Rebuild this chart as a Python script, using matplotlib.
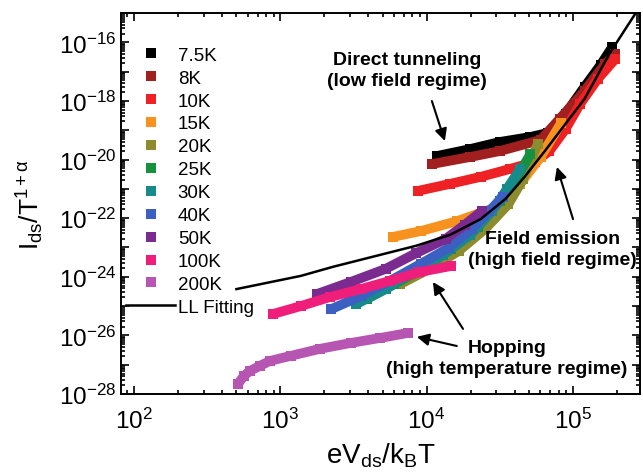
import numpy as np
import matplotlib
matplotlib.use("Agg")
import matplotlib.pyplot as plt
from matplotlib.lines import Line2D

plt.rcParams['font.family'] = ['Liberation Sans', 'DejaVu Sans']
plt.rcParams['mathtext.fontset'] = 'custom'
plt.rcParams['mathtext.rm'] = 'Liberation Sans'
plt.rcParams['mathtext.it'] = 'Liberation Sans:italic'

# data, as log10 values (x = eV/kT, y = I/T^(1+a))
labels = ['7.5K', '8K', '10K', '15K', '20K', '25K', '30K', '40K', '50K', '100K', '200K']
colors = ['#000000', '#a11f1f', '#ee2124', '#f7921e', '#8c8c2f', '#17903f',
          '#178b8b', '#3c60c2', '#7b2a8f', '#ee1e7a', '#b656b2']

x_7p5 = [4.07, 4.30, 4.50, 4.71, 4.83, 4.95, 5.08, 5.19, 5.27]
y_7p5 = [-19.88, -19.64, -19.40, -19.23, -19.09, -18.44, -17.52, -16.77, -16.16]
x_8 = [4.04, 4.30, 4.50, 4.78, 4.91, 5.08, 5.22, 5.29]
y_8 = [-20.15, -19.91, -19.71, -19.33, -18.61, -17.66, -16.74, -16.40]
x_10 = [3.94, 4.16, 4.37, 4.57, 4.74, 4.84, 4.95, 5.05, 5.17, 5.29]
y_10 = [-21.07, -20.83, -20.59, -20.32, -20.08, -19.71, -18.96, -18.10, -17.25, -16.57]
x_15 = [3.77, 3.96, 4.21, 4.48, 4.64, 4.78, 4.92]
y_15 = [-22.64, -22.44, -22.10, -21.62, -20.83, -19.91, -18.75]
x_20 = [3.82, 4.02, 4.22, 4.40, 4.56, 4.66, 4.76]
y_20 = [-24.25, -23.73, -23.12, -22.37, -21.52, -20.66, -19.47]
x_25 = [3.59, 3.78, 3.99, 4.17, 4.35, 4.50, 4.62, 4.71]
y_25 = [-24.76, -24.25, -23.67, -23.05, -22.30, -21.41, -20.59, -19.81]
x_30 = [3.52, 3.72, 3.92, 4.11, 4.30, 4.45, 4.55, 4.64]
y_30 = [-24.93, -24.42, -23.80, -23.26, -22.57, -21.75, -21.00, -20.32]
x_40 = [3.35, 3.55, 3.75, 3.96, 4.15, 4.31, 4.43, 4.52]
y_40 = [-25.10, -24.66, -24.14, -23.56, -23.02, -22.37, -21.75, -21.28]
x_50 = [3.25, 3.48, 3.72, 3.93, 4.13, 4.26, 4.38]
y_50 = [-24.59, -24.18, -23.73, -23.19, -22.71, -22.23, -21.75]
x_100 = [2.95, 3.14, 3.34, 3.55, 3.75, 3.95, 4.17]
y_100 = [-25.27, -25.00, -24.69, -24.42, -24.14, -23.84, -23.63]
x_200 = [2.71, 2.75, 2.79, 2.86, 2.93, 3.07, 3.27, 3.48, 3.68, 3.87]
y_200 = [-27.66, -27.39, -27.22, -27.04, -26.87, -26.70, -26.46, -26.26, -26.09, -25.92]

x_fit = [2.70, 3.14, 3.36, 3.93, 4.16, 4.37, 4.54, 4.67, 4.81, 4.95, 5.08, 5.25, 5.43]
y_fit = [-24.42, -23.97, -23.66, -22.94, -22.57, -22.03, -21.34, -20.59, -19.70,
         -18.78, -17.93, -16.39, -15.00]

xs = [x_7p5, x_8, x_10, x_15, x_20, x_25, x_30, x_40, x_50, x_100, x_200]
ys = [y_7p5, y_8, y_10, y_15, y_20, y_25, y_30, y_40, y_50, y_100, y_200]

fig = plt.figure(figsize=(6.43, 4.77), dpi=100)
ax = fig.add_axes([0.1882, 0.1719, 0.8071, 0.7987])

handles = []
for lab, c, lx, ly in zip(labels, colors, xs, ys):
    ax.plot(10.0 ** np.array(lx), 10.0 ** np.array(ly), '-', color=c, lw=7,
            solid_capstyle='butt', solid_joinstyle='round',
            marker='s', ms=7, mew=0)
    handles.append(Line2D([], [], ls='none', marker='s', ms=6.5, mew=0, color=c, label=lab))

ax.plot(10.0 ** np.array(x_fit), 10.0 ** np.array(y_fit), '-', color='k', lw=1.8)
handles.append(Line2D([], [], color='k', lw=1.8, label='LL Fitting'))

ax.set_xscale('log')
ax.set_yscale('log')
ax.set_xlim(10 ** 1.911, 10 ** 5.459)
ax.set_ylim(1e-28, 1e-15)

ax.set_xticks([1e2, 1e3, 1e4, 1e5])
ax.set_xticklabels([r'$\mathregular{10^{%d}}$' % e for e in range(2, 6)])
ax.set_yticks([10.0 ** e for e in range(-28, -14)])
ax.set_yticklabels([r'$\mathregular{10^{%d}}$' % e if e % 2 == 0 and e < -15 else ''
                    for e in range(-28, -14)])
ax.xaxis.set_minor_locator(matplotlib.ticker.LogLocator(subs=np.arange(2, 10), numticks=100))
ax.yaxis.set_minor_locator(matplotlib.ticker.LogLocator(subs=np.arange(2, 10), numticks=100))
ax.xaxis.set_minor_formatter(matplotlib.ticker.NullFormatter())
ax.yaxis.set_minor_formatter(matplotlib.ticker.NullFormatter())
ax.tick_params(which='both', direction='in', top=True, right=True, width=1.2, labelsize=17.5)
ax.tick_params(which='major', length=6)
ax.tick_params(which='minor', length=3)
ax.tick_params(axis='x', which='major', pad=10)
for s in ax.spines.values():
    s.set_linewidth(1.4)

ax.set_xlabel(r'$\mathregular{eV_{ds}/k_BT}$', fontsize=20, labelpad=5)
ax.set_ylabel(r'$\mathregular{I_{ds}/T^{1+α}}$', fontsize=19, labelpad=9)

ax.legend(handles=handles, loc='upper left', bbox_to_anchor=(0.01, 0.912),
          frameon=False, fontsize=13.5, handlelength=2.6, handletextpad=0.15,
          labelspacing=0.31, borderpad=0, borderaxespad=0)

arrow = dict(arrowstyle='-|>', color='k', lw=1.5, mutation_scale=18, shrinkA=0, shrinkB=0)
ax.text(0.551, 0.850, 'Direct tunneling\n(low field regime)', transform=ax.transAxes,
        ha='center', va='center', fontsize=14, fontweight='bold', linespacing=1.3)
ax.annotate('', xy=(0.624, 0.664), xytext=(0.599, 0.769), xycoords='axes fraction',
            arrowprops=arrow)
ax.text(0.832, 0.381, 'Field emission\n(high field regime)', transform=ax.transAxes,
        ha='center', va='center', fontsize=14, fontweight='bold', linespacing=1.35)
ax.annotate('', xy=(0.840, 0.596), xytext=(0.871, 0.459), xycoords='axes fraction',
            arrowprops=arrow)
ax.text(0.744, 0.0945, 'Hopping\n(high temperature regime)', transform=ax.transAxes,
        ha='center', va='center', fontsize=14, fontweight='bold', linespacing=1.3)
ax.annotate('', xy=(0.570, 0.150), xytext=(0.647, 0.126), xycoords='axes fraction',
            arrowprops=arrow)
ax.annotate('', xy=(0.601, 0.294), xytext=(0.659, 0.171), xycoords='axes fraction',
            arrowprops=arrow)

fig.savefig('out.png', dpi=100)
